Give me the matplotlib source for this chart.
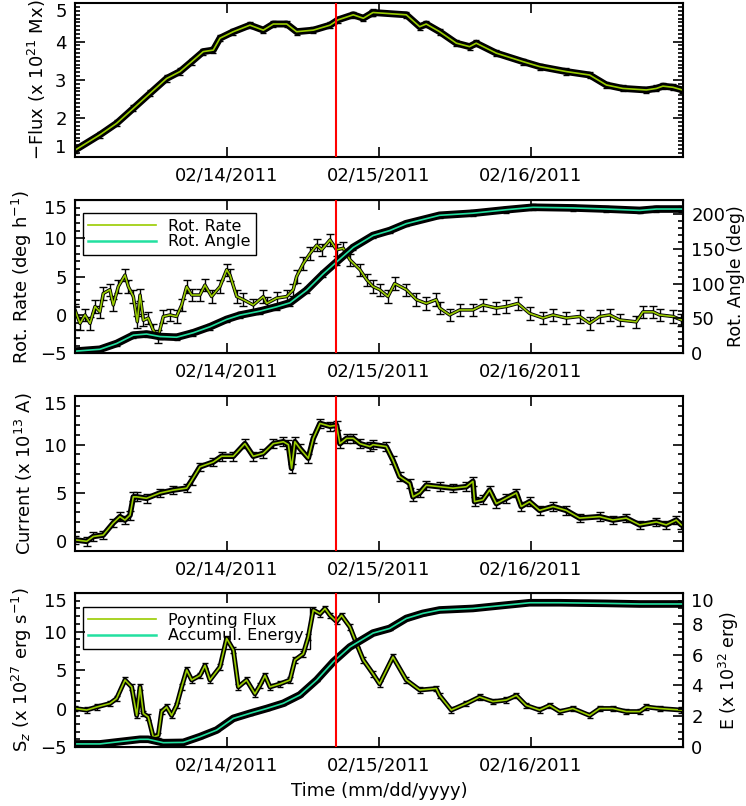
import matplotlib
matplotlib.use('Agg')
import matplotlib.pyplot as plt
from matplotlib.ticker import MultipleLocator, FixedLocator

plt.rcParams['font.family'] = ['DejaVu Sans']
plt.rcParams['mathtext.fontset'] = 'dejavusans'

# ---------------- data (time in days from axis start) ----------------
date_pos = [1, 2, 3]
date_labels = ['02/14/2011', '02/15/2011', '02/16/2011']
flare_t = 1.72

flux_t = [0.0, 0.164, 0.274, 0.384, 0.493, 0.603, 0.691, 0.768, 0.844, 0.910, 0.954, 1.042,
          1.151, 1.239, 1.305, 1.393, 1.458, 1.568, 1.678, 1.732, 1.831, 1.897, 1.952,
          1.961, 2.180, 2.268, 2.311, 2.399, 2.509, 2.596, 2.640, 2.772, 2.947, 3.057, 3.232,
          3.386, 3.496, 3.605, 3.759, 3.825, 3.868, 3.934, 3.996]
flux_v = [1.17, 1.57, 1.87, 2.26, 2.65, 3.04, 3.22, 3.48, 3.74, 3.78, 4.09, 4.26,
          4.43, 4.30, 4.46, 4.46, 4.26, 4.30, 4.43, 4.57, 4.70, 4.61, 4.74,
          4.76, 4.70, 4.39, 4.46, 4.26, 3.96, 3.87, 3.96, 3.70, 3.48, 3.35, 3.22,
          3.13, 2.87, 2.78, 2.74, 2.78, 2.84, 2.81, 2.74]
flux_err = 0.08

rate_t = [0.0, 0.033, 0.066, 0.099, 0.132, 0.164, 0.186, 0.230, 0.252, 0.285, 0.329, 0.351,
          0.384, 0.410, 0.428, 0.450, 0.482, 0.515, 0.548, 0.581, 0.625, 0.669, 0.702, 0.735,
          0.768, 0.822, 0.855, 0.899, 0.954, 0.998, 1.020, 1.064, 1.107, 1.173, 1.239, 1.261,
          1.327, 1.393, 1.436, 1.458, 1.502, 1.546, 1.590, 1.623, 1.678, 1.721, 1.765, 1.809,
          1.875, 1.919, 1.961,
          2.004, 2.059, 2.103, 2.180, 2.246, 2.311, 2.377, 2.399, 2.465, 2.531, 2.618, 2.684,
          2.772, 2.838, 2.914, 2.991, 3.079, 3.145, 3.232, 3.320, 3.386, 3.452, 3.518, 3.583,
          3.693, 3.737, 3.803, 3.846, 3.934, 3.989]
rate_v = [0.65, -1.1, 0.0, -1.1, 1.1, 0.4, 2.8, 3.3, 1.3, 3.7, 5.2, 3.7,
          2.4, -0.9, 2.6, -0.7, -0.4, -2.0, -2.8, -0.2, 0.0, -0.2, 1.3, 3.7,
          2.6, 2.6, 3.9, 2.4, 3.7, 5.9, 5.2, 2.4, 2.0, 1.3, 2.4, 1.5,
          2.2, 2.4, 3.3, 5.0, 6.7, 8.0, 9.1, 8.5, 9.8, 8.5, 8.7, 7.2,
          5.9, 4.6, 3.7,
          3.3, 2.4, 4.1, 3.3, 2.0, 1.5, 2.0, 0.9, 0.0, 0.65, 0.65, 1.3,
          0.9, 1.1, 1.5, 0.2, -0.4, 0.0, -0.4, -0.2, -1.1, -0.2, 0.0, -0.65,
          -0.9, 0.4, 0.4, 0.0, -0.2, -0.65]
rate_err = 0.8

angle_t = [0.0, 0.164, 0.274, 0.384, 0.471, 0.559, 0.669, 0.779, 0.888, 0.998, 1.086, 1.217,
           1.327, 1.414, 1.524, 1.633, 1.721, 1.831, 1.961, 2.070, 2.180, 2.399, 2.618, 2.838,
           3.013, 3.276, 3.496, 3.715, 3.825, 3.989]
angle_v = [3, 5.7, 14, 26, 27.6, 24, 23, 29.5, 38, 48.6, 54.8, 60.5,
           66.7, 72.4, 90.5, 114, 131, 152, 169, 176, 186, 198, 201, 206,
           209.5, 208.6, 207, 205, 207, 207]
angle_err = 4

curr_t = [0.0, 0.077, 0.121, 0.186, 0.252, 0.296, 0.329, 0.362, 0.384, 0.406,
          0.471, 0.559, 0.647, 0.735, 0.768, 0.822, 0.910, 0.965, 1.042, 1.118,
          1.173, 1.239, 1.305, 1.371, 1.404, 1.425, 1.447, 1.480, 1.535, 1.568,
          1.612, 1.678, 1.721, 1.743, 1.787, 1.831, 1.875, 1.941,
          1.961, 2.048, 2.092, 2.136, 2.202, 2.224, 2.268, 2.311, 2.399, 2.487,
          2.575, 2.618, 2.629, 2.684, 2.728, 2.772, 2.838, 2.904, 2.936, 2.991,
          3.057, 3.145, 3.232, 3.320, 3.452, 3.539, 3.627, 3.715, 3.825, 3.890,
          3.956, 3.989]
curr_v = [0.15, 0.0, 0.5, 0.65, 1.9, 2.55, 2.2, 2.7, 4.6, 4.6,
          4.45, 5.0, 5.3, 5.5, 6.3, 7.7, 8.2, 8.8, 8.8, 10.1,
          8.8, 9.1, 10.1, 10.3, 10.0, 7.55, 10.3, 9.6, 8.6, 10.65,
          12.2, 11.9, 12.0, 10.1, 10.65, 10.65, 10.1, 9.8,
          10.0, 9.8, 8.4, 6.7, 6.0, 4.6, 5.0, 5.8, 5.65, 5.5,
          5.65, 6.2, 4.1, 4.3, 5.3, 3.9, 4.45, 5.0, 3.6, 4.1,
          3.2, 3.6, 3.2, 2.4, 2.55, 2.2, 2.4, 1.7, 2.0, 1.7,
          2.2, 1.7]
curr_err = 0.45

sz_t = [0.0, 0.077, 0.143, 0.230, 0.274, 0.329, 0.373, 0.406, 0.428, 0.450,
        0.482, 0.515, 0.548, 0.570, 0.603, 0.636, 0.669, 0.702, 0.735, 0.768,
        0.822, 0.855, 0.888, 0.954, 0.998, 1.042, 1.075, 1.129, 1.184, 1.217,
        1.250, 1.283, 1.349, 1.414, 1.447, 1.502, 1.535, 1.568, 1.612, 1.645,
        1.678, 1.721, 1.754, 1.809, 1.853, 1.897, 1.961,
        2.004, 2.092, 2.180, 2.268, 2.377, 2.399, 2.476, 2.575, 2.662, 2.750,
        2.838, 2.904, 2.969, 3.057, 3.123, 3.189, 3.276, 3.386, 3.452, 3.539,
        3.627, 3.715, 3.759, 3.846, 3.989]
sz_v = [0.0, -0.2, 0.2, 0.65, 1.3, 3.7, 2.8, -0.9, 2.8, -0.65,
        -1.1, -3.7, -3.5, -0.4, 0.2, -0.9, 0.4, 2.8, 5.0, 3.7,
        4.3, 5.6, 3.7, 5.4, 9.1, 7.6, 2.8, 3.7, 1.9, 3.0,
        4.3, 2.8, 3.2, 3.7, 6.3, 7.1, 9.3, 12.8, 12.3, 13.0,
        12.1, 11.3, 12.1, 10.6, 8.4, 6.3, 4.5,
        3.2, 6.7, 3.7, 2.4, 2.6, 1.7, -0.2, 0.65, 1.5, 0.9,
        1.1, 1.7, 0.4, -0.2, 0.4, -0.4, 0.0, -0.9, 0.0, 0.0,
        -0.4, -0.4, 0.2, 0.0, -0.2]
sz_err = 0.35

en_t = [0.0, 0.164, 0.296, 0.428, 0.482, 0.581, 0.713, 0.822, 0.932, 1.042,
        1.151, 1.261, 1.371, 1.480, 1.590, 1.700, 1.809, 1.961, 2.070, 2.180,
        2.289, 2.399, 2.618, 2.838, 2.991, 3.189, 3.496, 3.715, 3.989]
en_v = [0.2, 0.2, 0.35, 0.5, 0.5, 0.28, 0.3, 0.67, 1.1, 1.86,
        2.19, 2.5, 2.84, 3.38, 4.35, 5.54, 6.5, 7.4, 7.7, 8.35,
        8.68, 8.9, 9.0, 9.22, 9.37, 9.37, 9.33, 9.29, 9.29]
en_err = 0.08

GREEN = '#99CC00'
CYAN = '#22E0A0'
FS = 13

fig = plt.figure(figsize=(7.46, 8.06), dpi=100)
L, W = 0.1005, 0.815
ax1 = fig.add_axes([L, 0.8056, W, 0.1903])
ax2 = fig.add_axes([L, 0.5617, W, 0.1902])
ax3 = fig.add_axes([L, 0.3164, W, 0.1919])
ax4 = fig.add_axes([L, 0.0732, W, 0.1910])


def style(ax, ylim, major, minor, right=True):
    ax.set_xlim(0, 4)
    ax.set_ylim(*ylim)
    ax.xaxis.set_major_locator(FixedLocator(date_pos))
    ax.set_xticklabels(date_labels)
    ax.yaxis.set_major_locator(MultipleLocator(major))
    ax.yaxis.set_minor_locator(MultipleLocator(minor))
    ax.tick_params(which='both', direction='in', top=True, right=right, width=1.2,
                   labelsize=FS)
    ax.tick_params(which='major', length=7)
    ax.tick_params(which='minor', length=3.5)
    ax.tick_params(axis='x', which='minor', bottom=False, top=False)
    ax.tick_params(axis='x', pad=7)
    ax.tick_params(axis='y', pad=6)
    for s in ax.spines.values():
        s.set_linewidth(1.5)


def twin_style(ax, ylim, major, minor):
    ax.set_ylim(*ylim)
    ax.yaxis.set_major_locator(MultipleLocator(major))
    ax.yaxis.set_minor_locator(MultipleLocator(minor))
    ax.tick_params(which='both', direction='in', width=1.2, labelsize=FS, pad=6)
    ax.tick_params(which='major', length=7)
    ax.tick_params(which='minor', length=3.5)


def band(ax, t, v, err, color, lw_black, cap=2.5, z=2):
    ax.plot(t, v, color='black', lw=lw_black, zorder=z, solid_capstyle='round')
    ax.errorbar(t, v, yerr=err, fmt='none', ecolor='black', elinewidth=1.0,
                capsize=cap, capthick=1.0, zorder=z)
    ax.plot(t, v, color=color, lw=1.2, zorder=z + 0.5)


# Panel 1
style(ax1, (1, 5), 1, 0.1)
band(ax1, flux_t, flux_v, flux_err, GREEN, 5)
ax1.axvline(flare_t, color='red', lw=1.5, zorder=4)
ax1.set_ylabel('\u2212Flux (x 10$^{21}$ Mx)', fontsize=FS)
ax1.yaxis.set_label_coords(-0.045, 0.5)

# Panel 2
style(ax2, (-5, 15), 5, 1, right=False)
ax2b = ax2.twinx()
twin_style(ax2b, (0, 220), 50, 10)
band(ax2, rate_t, rate_v, rate_err, GREEN, 2.5, cap=3)
band(ax2b, angle_t, angle_v, angle_err, CYAN, 5.5, cap=2)
ax2b.axvline(flare_t, color='red', lw=1.5, zorder=4)
ax2.set_ylabel('Rot. Rate (deg h$^{-1}$)', fontsize=FS)
ax2.yaxis.set_label_coords(-0.067, 0.5)
ax2b.set_ylabel('Rot. Angle (deg)', fontsize=12.5)
ax2b.yaxis.set_label_coords(1.072, 0.5)
h1, = ax2.plot([], [], color=GREEN, lw=1.2, label='Rot. Rate')
h2, = ax2.plot([], [], color=CYAN, lw=1.8, label='Rot. Angle')
lg = ax2b.legend(handles=[h1, h2], loc='upper left', bbox_to_anchor=(0.013, 0.915),
                 borderaxespad=0, fontsize=11.5, fancybox=False, edgecolor='black',
                 facecolor='none', framealpha=1, handlelength=4.2, handletextpad=0.8,
                 labelspacing=0.05, borderpad=0.35)
lg.get_frame().set_linewidth(1.0)
lg.set_zorder(1)

# Panel 3
style(ax3, (-1, 15), 5, 1)
band(ax3, curr_t, curr_v, curr_err, GREEN, 4, cap=3)
ax3.axvline(flare_t, color='red', lw=1.5, zorder=4)
ax3.set_ylabel('Current (x 10$^{13}$ A)', fontsize=FS)
ax3.yaxis.set_label_coords(-0.065, 0.5)

# Panel 4
style(ax4, (-5, 15), 5, 1, right=False)
ax4b = ax4.twinx()
twin_style(ax4b, (0, 10), 2, 0.5)
band(ax4, sz_t, sz_v, sz_err, GREEN, 3.5, cap=2.5)
band(ax4b, en_t, en_v, en_err, CYAN, 5.5, cap=2)
ax4b.axvline(flare_t, color='red', lw=1.5, zorder=4)
ax4.set_ylabel('S$_z$ (x 10$^{27}$ erg s$^{-1}$)', fontsize=FS)
ax4.yaxis.set_label_coords(-0.067, 0.5)
ax4b.set_ylabel('E (x 10$^{32}$ erg)', fontsize=12.5)
ax4b.yaxis.set_label_coords(1.056, 0.5)
ax4.set_xlabel('Time (mm/dd/yyyy)', fontsize=FS, labelpad=5)
h3, = ax4.plot([], [], color=GREEN, lw=1.2, label='Poynting Flux')
h4, = ax4.plot([], [], color=CYAN, lw=1.8, label='Accumul. Energy')
lg2 = ax4.legend(handles=[h3, h4], loc='upper left', bbox_to_anchor=(0.013, 0.91),
                 borderaxespad=0, fontsize=11.5, fancybox=False, edgecolor='black',
                 facecolor='none', framealpha=1, handlelength=4.2, handletextpad=0.8,
                 labelspacing=0.05, borderpad=0.35)
lg2.get_frame().set_linewidth(1.0)
lg2.set_zorder(1)

# IDL-style: labels at the ends of an axis are kept inside the axis span
fig.canvas.draw()
for ax in [ax1, ax2, ax2b, ax3, ax4, ax4b]:
    lo, hi = ax.get_ylim()
    locs = ax.yaxis.get_majorticklocs()
    ticks = ax.yaxis.get_major_ticks(len(locs))
    for loc, tk in zip(locs, ticks):
        if abs(loc - hi) < 1e-9:
            tk.label1.set_verticalalignment('top')
            tk.label2.set_verticalalignment('top')
    if ax is ax1:
        for loc, tk in zip(locs, ticks):
            if abs(loc - lo) < 1e-9:
                tk.label1.set_verticalalignment('bottom')

fig.savefig('out.png', dpi=100)
